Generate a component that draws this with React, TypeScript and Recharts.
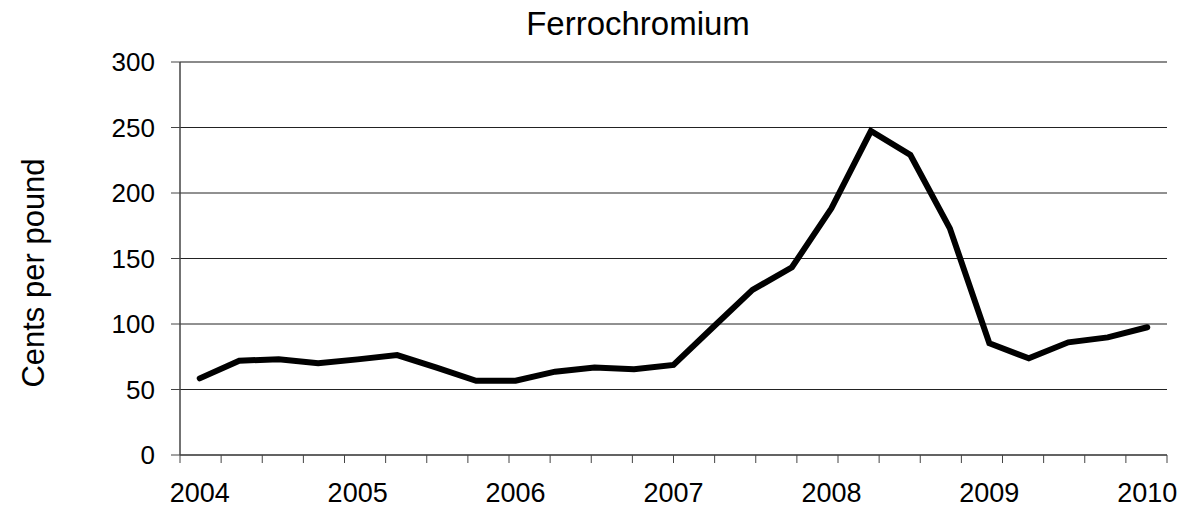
import React from 'react';
import { LineChart, Line, XAxis, YAxis, CartesianGrid, ReferenceLine } from 'recharts';

const quarters = [
  '2004 Q1', '2004 Q2', '2004 Q3', '2004 Q4',
  '2005 Q1', '2005 Q2', '2005 Q3', '2005 Q4',
  '2006 Q1', '2006 Q2', '2006 Q3', '2006 Q4',
  '2007 Q1', '2007 Q2', '2007 Q3', '2007 Q4',
  '2008 Q1', '2008 Q2', '2008 Q3', '2008 Q4',
  '2009 Q1', '2009 Q2', '2009 Q3', '2009 Q4',
  '2010 Q1',
];

const ferrochromium = [
  58.5, 72, 73, 70,
  73, 76.3, 66.7, 56.7,
  56.7, 63.6, 66.7, 65.4,
  68.7, 97.5, 126, 143.3,
  188.3, 247.3, 229, 173,
  85.3, 73.8, 86, 89.8,
  97.5,
];

const yTicks = [0, 50, 100, 150, 200, 250, 300];

const title = 'Ferrochromium';
const yTitle = 'Cents per pound';

const data = quarters.map((q, i) => ({ q, v: ferrochromium[i] }));
const boundaries = quarters.map((_, i) => i).concat(quarters.length);

const FONT = '"Liberation Sans", Arial, sans-serif';

export default function App() {
  return (
    <div style={{ position: 'relative', width: 1185, height: 510, fontFamily: FONT, background: '#fff' }}>
      <style>{`body{margin:0}`}</style>
      <div
        style={{
          position: 'absolute', left: 638, top: 5, transform: 'translateX(-50%)',
          fontSize: 33, whiteSpace: 'nowrap', color: '#000', lineHeight: 'normal',
        }}
      >
        {title}
      </div>
      <div
        style={{
          position: 'absolute', left: 34, top: 272.5,
          transform: 'translate(-50%, -50%) rotate(-90deg)',
          fontSize: 31, whiteSpace: 'nowrap', color: '#000', lineHeight: 'normal',
        }}
      >
        {yTitle}
      </div>
      <LineChart
        width={1185}
        height={510}
        data={data}
        margin={{ top: 62, right: 18, bottom: 0, left: 0 }}
        style={{ position: 'absolute', left: 0, top: 0 }}
      >
        <CartesianGrid vertical={false} stroke="#222" strokeWidth={1} xAxisId="b_cat" />
        <XAxis
          xAxisId="a_ticks"
          type="number"
          domain={[0, quarters.length]}
          ticks={boundaries}
          interval={0}
          height={8}
          tickSize={8}
          tickFormatter={() => ''}
          stroke="#555"
          tickLine={{ stroke: '#444' }}
          axisLine={{ stroke: '#555', strokeWidth: 1.5 }}
          allowDataOverflow
        />
        <XAxis
          xAxisId="b_cat"
          dataKey="q"
          type="category"
          scale="band"
          interval={0}
          height={47}
          tickSize={0}
          tickLine={false}
          axisLine={false}
          tickMargin={20}
          tick={{ fill: '#000', fontSize: 27, fontFamily: FONT }}
          tickFormatter={(v: string) => (v.endsWith('Q1') ? v.slice(0, 4) : '')}
        />
        <YAxis
          width={180}
          domain={[0, 300]}
          ticks={yTicks}
          interval={0}
          tickSize={9}
          tickMargin={16}
          tick={{ fill: '#000', fontSize: 26, fontFamily: FONT }}
          axisLine={{ stroke: '#444', strokeWidth: 1.5 }}
          tickLine={{ stroke: '#444' }}
        />
        <ReferenceLine y={300} xAxisId="b_cat" stroke="#888" strokeWidth={1.5} />
        <ReferenceLine x={quarters.length} xAxisId="a_ticks" stroke="#888" strokeWidth={1.5} />
        <Line
          xAxisId="b_cat"
          dataKey="v"
          stroke="#000"
          strokeWidth={6}
          dot={false}
          strokeLinejoin="miter"
          strokeLinecap="round"
          isAnimationActive={false}
        />
      </LineChart>
    </div>
  );
}
